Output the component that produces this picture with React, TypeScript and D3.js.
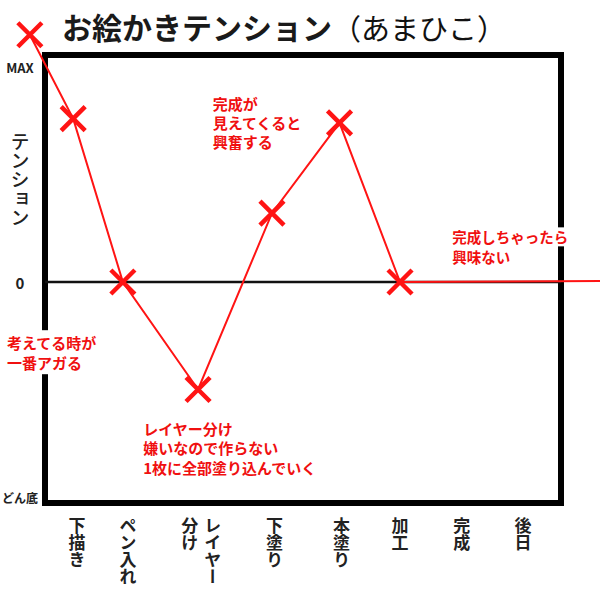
import React from "react";
import * as d3 from "d3";

const W = 600;
const H = 599;
const FONT = "'Noto Sans CJK JP', 'Noto Sans', sans-serif";

// Stages on the x axis (vertical labels, columns split by "\n")
const stages = ["下描き", "ペン入れ", "レイヤー\n分け", "下塗り", "本塗り", "加工", "完成", "後日"];
// progress position of each stage label (in stage units)
const stagePos = [0, 0.8, 1.95, 3.1, 4.15, 5.07, 6.04, 7];

// Tension curve: progress position and tension value (-100 = どん底, 100 = MAX)
const curveX = [-0.74, -0.06, 0.72, 1.9, 3.06, 4.12, 5.07, 8.21];
const curveY = [115, 76, 0, -50, 32, 74, 0, 0.5];
// which curve points get an X mark
const marked = [true, true, true, true, true, true, true, false];

const yTickValues = [100, 0, -100];
const yTickLabels = ["MAX", "0", "どん底"];
const yTickSizes = [13, 15, 12];

const title = "お絵かきテンション";
const author = "（あまひこ）";
const yTitle = "テンション";

const notes = [
  { lines: ["完成が", "見えてくると", "興奮する"], x: 2.13, y: 83 },
  { lines: ["考えてる時が", "一番アガる"], x: -1.1, y: -28 },
  { lines: ["レイヤー分け", "嫌いなので作らない", "1枚に全部塗り込んでいく"], x: 1.04, y: -68 },
  { lines: ["完成しちゃったら", "興味ない"], x: 5.89, y: 21 },
];
const noteLineGap = [19, 20, 19.5, 20];
const notePad = [0, 12, 0, 9.5];
const noteSize = [15, 15, 15, 14.5];

export default function App() {
  const x = d3.scaleLinear().domain([0, 7]).range([77, 523]);
  const y = d3.scaleLinear().domain([-100, 100]).range([497, 67]);

  const frame = { left: 45, right: 561, top: 55, bottom: 503 };
  const pts = curveX.map((v, i) => [x(v), y(curveY[i])] as [number, number]);
  const line = d3.line()(pts) || "";

  const red = "#ff1414";
  const textRed = "#f01010";

  return (
    <svg width={W} height={H} style={{ position: "absolute", left: 0, top: 0, background: "#fff" }}>
      <rect x={0} y={0} width={W} height={H} fill="#fff" />
      {/* title */}
      <text x={62} y={26} dominantBaseline="central" fontFamily={FONT} fontWeight={700} fontSize={30} fill="#1a1a1a">
        {title}
      </text>
      <text x={332} y={27} dominantBaseline="central" fontFamily={FONT} fontWeight={400} fontSize={29} fill="#111">
        {author}
      </text>

      {/* frame */}
      <rect
        x={frame.left}
        y={frame.top}
        width={frame.right - frame.left}
        height={frame.bottom - frame.top}
        fill="none"
        stroke="#000"
        strokeWidth={6}
      />
      {/* zero line */}
      <line x1={frame.left} x2={frame.right} y1={y(0)} y2={y(0)} stroke="#111" strokeWidth={2.5} />

      {/* y tick labels */}
      {yTickValues.map((v, i) => (
        <text
          key={i}
          x={20}
          y={y(v)}
          textAnchor="middle"
          dominantBaseline="central"
          fontFamily={FONT}
          fontWeight={700}
          fontSize={yTickSizes[i]}
          fill="#222"
        >
          {yTickLabels[i]}
        </text>
      ))}
      <text
        x={20}
        y={132}
        fontFamily={FONT}
        fontWeight={500}
        fontSize={19}
        fill="#222"
        style={{ writingMode: "vertical-rl" as any }}
      >
        {yTitle}
      </text>

      {/* x labels */}
      {stages.map((s, i) => {
        const cols = s.split("\n");
        const pitch = 23;
        return cols.map((c, j) => (
          <text
            key={i + "-" + j}
            x={x(stagePos[i]) + ((cols.length - 1) / 2) * pitch - j * pitch}
            y={517}
            fontFamily={FONT}
            fontWeight={700}
            fontSize={17}
            fill="#222"
            style={{ writingMode: "vertical-rl" as any }}
          >
            {c}
          </text>
        ));
      })}

      {/* curve */}
      <path d={line} fill="none" stroke={red} strokeWidth={2} />
      {pts.map((p, i) =>
        marked[i] ? (
          <path
            key={i}
            transform={`translate(${p[0]},${p[1]})`}
            d="M-12,-12 L12,12 M12,-12 L-12,12"
            stroke={red}
            strokeWidth={4.5}
            fill="none"
          />
        ) : null
      )}

      {/* annotation backgrounds (white knock-out over the frame) */}
      {notes.map((n, i) =>
        notePad[i] > 0
          ? n.lines.map((l, k) => (
              <rect
                key={"bg" + i + "-" + k}
                x={x(n.x) - 3}
                y={y(n.y) + k * noteLineGap[i] - notePad[i]}
                width={l.length * noteSize[i] + 6}
                height={notePad[i] * 2}
                fill="#fff"
              />
            ))
          : null
      )}

      {/* annotations */}
      {notes.map((n, i) =>
        n.lines.map((l, k) => (
          <text
            key={i + "-" + k}
            x={x(n.x)}
            y={y(n.y) + k * noteLineGap[i]}
            fontFamily={FONT}
            fontWeight={700}
            fontSize={noteSize[i]}
            fill={textRed}
            dominantBaseline="central"
          >
            {l}
          </text>
        ))
      )}
    </svg>
  );
}
